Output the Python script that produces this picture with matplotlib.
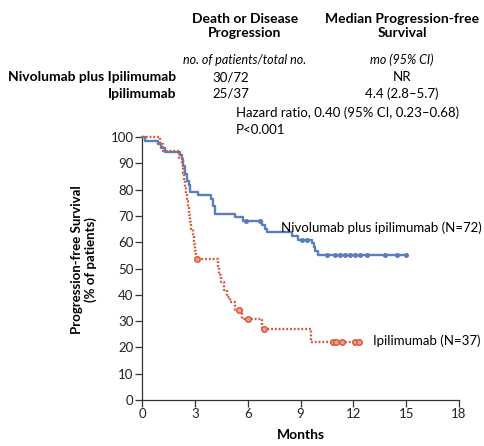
import matplotlib
matplotlib.use("Agg")
import matplotlib.pyplot as plt

plt.rcParams['font.family'] = ['Lato', 'DejaVu Sans']

# Nivolumab plus ipilimumab (blue)
nivo_t = [0, 0.15, 0.9, 1.1, 1.3, 2.15, 2.25, 2.35, 2.45, 2.55, 2.65, 2.75, 3.2, 3.9, 4.05, 4.15,
          5.3, 5.75, 6.8, 7.0, 7.1, 8.5, 8.85, 9.65, 9.75, 9.85, 10.0, 15.05]
nivo_s = [100, 98.6, 97.2, 95.8, 94.4, 93.0, 91.6, 88.8, 86.1, 83.3, 81.9, 79.2, 77.8, 76.4, 73.6, 70.8,
          69.4, 68.0, 66.6, 65.2, 63.8, 62.4, 61.0, 59.6, 58.0, 56.5, 55.0, 55.0]
nivo_cens_t = [5.9, 6.7, 9.1, 9.35, 10.5, 10.97, 11.25, 11.5, 11.8, 12.1, 12.4, 12.8, 13.8, 14.5, 15.0]
nivo_cens_s = [68.0, 68.0, 61.0, 61.0, 55.0, 55.0, 55.0, 55.0, 55.0, 55.0, 55.0, 55.0, 55.0, 55.0, 55.0]

# Ipilimumab (red)
ipi_t = [0, 1.0, 1.2, 2.1, 2.25, 2.3, 2.38, 2.44, 2.5, 2.56, 2.62, 2.67, 2.72, 2.8, 2.87, 2.95, 3.0, 3.05,
         4.3, 4.4, 4.5, 4.65, 4.85, 5.0, 5.3, 5.7, 6.8, 9.6, 12.35]
ipi_s = [100, 97.3, 94.6, 91.9, 89.2, 86.5, 83.8, 81.1, 78.4, 75.7, 73.0, 70.3, 67.6, 64.9, 62.2, 59.5, 56.8, 53.5,
         50.6, 47.7, 44.9, 42.0, 39.2, 37.2, 34.2, 30.9, 27.0, 22.0, 22.0]
ipi_cens_t = [3.1, 5.5, 6.0, 6.9, 10.85, 11.0, 11.35, 12.1, 12.3]
ipi_cens_s = [53.5, 34.2, 30.9, 27.0, 22.0, 22.0, 22.0, 22.0, 22.0]

x_ticks = [0, 3, 6, 9, 12, 15, 18]
y_ticks = [0, 10, 20, 30, 40, 50, 60, 70, 80, 90, 100]

blue = '#5a7ec2'
red = '#d5573b'

fig = plt.figure(figsize=(4.85, 4.46), dpi=100)
ax = fig.add_axes([142/485, 1-400/446, 317/485, 263/446])

ax.plot(nivo_t, nivo_s, drawstyle='steps-post', color=blue, lw=1.7, clip_on=False, zorder=3)
ax.plot(nivo_cens_t, nivo_cens_s, 'o', color=blue, ms=2.6, clip_on=False, zorder=4)

ax.plot(ipi_t, ipi_s, drawstyle='steps-post', color=red, lw=1.7, linestyle=(0, (0.8, 0.8)),
        clip_on=False, zorder=3)
ax.plot(ipi_cens_t, ipi_cens_s, 'o', mfc='#eea08c', mec=red, mew=1.0, ms=4, clip_on=False, zorder=4)

ax.set_xlim(0, 18)
ax.set_ylim(0, 100)
ax.set_xticks(x_ticks)
ax.set_yticks(y_ticks)
ax.tick_params(labelsize=9.5, length=5, width=0.9, color='#333333', pad=1, labelcolor='#222222')
for s in ['top', 'right']:
    ax.spines[s].set_visible(False)
for s in ['left', 'bottom']:
    ax.spines[s].set_color('#333333')
    ax.spines[s].set_linewidth(0.9)

ax.set_xlabel('Months', fontsize=10, fontweight='bold', labelpad=6)
fig.text(84/485, 1-260/446, 'Progression-free Survival\n(% of patients)', rotation=90,
         ha='center', va='center', fontsize=9.5, fontweight='bold', linespacing=1.15)

ax.text(7.9, 65.5, 'Nivolumab plus ipilimumab (N=72)', fontsize=9.5, va='center', ha='left')
ax.text(13.1, 22.5, 'Ipilimumab (N=37)', fontsize=9.5, va='center', ha='left')

# header table
def ft(x, y, s, **kw):
    fig.text(x/485, 1-y/446, s, **kw)

ft(245, 26, 'Death or Disease\nProgression', ha='center', va='center', fontsize=10,
   fontweight='bold', linespacing=1.25)
ft(402, 26, 'Median Progression-free\nSurvival', ha='center', va='center', fontsize=10,
   fontweight='bold', linespacing=1.25)
ft(245, 60, 'no. of patients/total no.', ha='center', va='center', fontsize=9, style='italic')
ft(402, 60, 'mo (95% CI)', ha='center', va='center', fontsize=9, style='italic')
ft(176, 77, 'Nivolumab plus Ipilimumab', ha='right', va='center', fontsize=10, fontweight='bold')
ft(176, 94, 'Ipilimumab', ha='right', va='center', fontsize=10, fontweight='bold')
ft(212, 77, '30/72', ha='left', va='center', fontsize=9.5)
ft(212, 94, '25/37', ha='left', va='center', fontsize=9.5)
ft(402, 77, 'NR', ha='center', va='center', fontsize=9.5)
ft(402, 94, '4.4 (2.8–5.7)', ha='center', va='center', fontsize=9.5)
ft(236, 113, 'Hazard ratio, 0.40 (95% CI, 0.23–0.68)', ha='left', va='center', fontsize=9.5)
ft(236, 130, 'P<0.001', ha='left', va='center', fontsize=9.5)

fig.savefig('out.png', dpi=100)
